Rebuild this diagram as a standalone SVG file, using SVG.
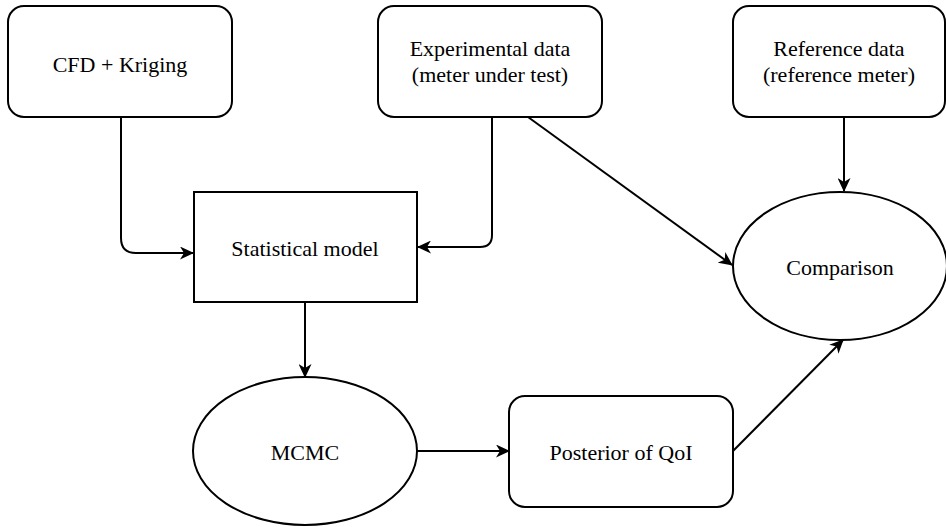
<svg xmlns="http://www.w3.org/2000/svg" width="946" height="527" viewBox="0 0 946 527">
<style>
.n{fill:#fff;stroke:#000;stroke-width:2}
.t{font-family:'Liberation Serif','Times New Roman',Times,serif;font-size:22px;fill:#000;text-anchor:middle}
.c{fill:none;stroke:#000;stroke-width:2}
</style>
<defs>
<marker id="a" viewBox="0 0 14 13" refX="13" refY="6.5" markerWidth="14" markerHeight="13" markerUnits="userSpaceOnUse" orient="auto">
<path d="M0,0 L14,6.5 L0,13 L4,6.5 Z" fill="#000"/>
</marker>
</defs>
<rect width="946" height="527" fill="#fff"/>
<g id="connectors">
<path class="c" d="M121,117 V238 Q121,253 136,253 H193" marker-end="url(#a)"/>
<path class="c" d="M492,117 V235 Q492,247 480,247 H418" marker-end="url(#a)"/>
<path class="c" d="M528,117 L732,265" marker-end="url(#a)"/>
<path class="c" d="M844,117 V191" marker-end="url(#a)"/>
<path class="c" d="M305,302 V377" marker-end="url(#a)"/>
<path class="c" d="M417,451 H509" marker-end="url(#a)"/>
<path class="c" d="M733,451 L843,340" marker-end="url(#a)"/>
</g>
<g id="cfd">
<rect class="n" x="8" y="6" width="224" height="111" rx="16"/>
<text class="t" x="120" y="72">CFD + Kriging</text>
</g>
<g id="experimental">
<rect class="n" x="378" y="6" width="224" height="111" rx="16"/>
<text class="t" x="490" y="56">Experimental data</text>
<text class="t" x="490" y="82">(meter under test)</text>
</g>
<g id="reference">
<rect class="n" x="733" y="6" width="212" height="111" rx="16"/>
<text class="t" x="839" y="56">Reference data</text>
<text class="t" x="839" y="82">(reference meter)</text>
</g>
<g id="statistical">
<rect class="n" x="194" y="192" width="223" height="110"/>
<text class="t" x="305" y="256">Statistical model</text>
</g>
<g id="comparison">
<ellipse class="n" cx="840" cy="266" rx="107" ry="74"/>
<text class="t" x="840" y="275">Comparison</text>
</g>
<g id="mcmc">
<ellipse class="n" cx="305" cy="451" rx="112" ry="74"/>
<text class="t" x="305" y="460">MCMC</text>
</g>
<g id="posterior">
<rect class="n" x="509" y="396" width="224" height="111" rx="16"/>
<text class="t" x="621" y="460">Posterior of QoI</text>
</g>
</svg>
